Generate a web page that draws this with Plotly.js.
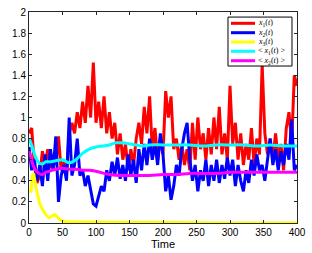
<!DOCTYPE html>
<html><head><meta charset="utf-8">
<script src="https://cdn.plot.ly/plotly-3.0.1.min.js"></script>
<style>html,body{margin:0;padding:0;background:#fff}</style>
</head><body><div id="chart" style="width:312px;height:253px"></div>
<script>
const tNoise = [0,4,8,12,16,20,24,28,32,36,40,44,48,52,56,60,64,68,72,76,80,84,88,92,96,100,104,108,112,116,120,124,128,132,136,140,144,148,152,156,160,164,168,172,176,180,184,188,192,196,200,204,208,212,216,220,224,228,232,236,240,244,248,252,256,260,264,268,272,276,280,284,288,292,296,300,304,308,312,316,320,324,328,332,336,340,344,348,352,356,360,364,368,372,376,380,384,388,392,396,400];
const x1 = [0.85,0.9,0.55,0.38,0.45,0.68,0.55,0.7,0.52,0.65,0.55,0.82,0.5,0.58,0.45,0.85,0.95,0.85,1.05,0.9,1.15,0.95,1.3,1.0,1.52,0.95,1.15,0.9,1.2,0.85,1.05,0.8,0.95,0.65,0.85,0.6,0.75,0.5,0.7,0.55,0.8,0.95,0.75,1.1,0.85,1.2,0.7,0.9,0.6,0.8,0.65,1.25,1.0,1.2,0.7,0.8,0.6,0.75,0.55,0.7,0.5,0.95,0.6,1.0,0.7,0.85,0.6,0.9,0.65,1.0,0.7,1.1,0.65,0.85,0.6,1.3,0.75,0.95,0.6,0.85,0.55,0.75,0.6,0.9,0.55,0.8,0.65,1.5,0.85,0.65,0.8,0.6,0.85,0.6,0.75,0.5,0.9,1.05,0.75,1.4,1.3];
const x2 = [0.72,0.5,0.6,0.4,0.55,0.35,0.65,0.4,0.7,0.5,0.82,0.2,0.45,0.55,0.4,1.0,0.45,0.55,0.8,0.45,0.5,0.35,0.45,0.3,0.18,0.16,0.25,0.35,0.3,0.5,0.4,0.58,0.45,0.62,0.42,0.55,0.4,0.65,0.45,0.6,0.38,0.7,0.5,0.75,0.55,0.8,0.6,0.75,0.55,0.85,0.65,0.3,0.45,0.22,0.35,0.55,0.45,0.7,0.85,0.95,0.6,0.4,0.55,0.3,0.5,0.4,0.6,0.35,0.55,0.4,0.6,0.38,0.55,0.42,0.62,0.45,0.6,0.35,0.55,0.4,0.3,0.5,0.38,0.6,0.45,0.65,0.5,0.55,0.4,0.6,0.8,0.55,0.7,0.5,0.68,0.55,0.75,0.6,0.98,0.5,0.55];
const tX3 = [0,3,5,7,10,13,16,20,25,30,35,38,42,46,50,55,60,100,150,200,300,400];
const x3 = [0.3,0.3,0.45,0.47,0.35,0.25,0.18,0.13,0.08,0.05,0.07,0.08,0.06,0.03,0.02,0.01,0.01,0.01,0.005,0.005,0,0];
const tAvg1 = [0,5,10,15,20,25,30,40,50,60,70,80,90,100,110,120,130,140,150,160,170,180,200,220,240,260,280,300,320,340,360,380,400];
const avgX1 = [0.8,0.72,0.62,0.57,0.56,0.58,0.58,0.59,0.6,0.57,0.6,0.66,0.7,0.72,0.73,0.74,0.76,0.76,0.75,0.74,0.73,0.74,0.74,0.74,0.74,0.73,0.74,0.74,0.74,0.73,0.74,0.73,0.73];
const tAvg2 = [0,3,6,10,15,20,25,30,40,50,60,70,80,90,100,120,140,160,180,200,220,240,260,280,300,320,340,360,380,400];
const avgX2 = [0.68,0.62,0.55,0.5,0.47,0.46,0.48,0.49,0.51,0.52,0.51,0.51,0.5,0.5,0.49,0.46,0.45,0.45,0.45,0.46,0.46,0.47,0.47,0.47,0.48,0.48,0.48,0.48,0.48,0.48];
const names = ['<i>x</i><sub>1</sub>(<i>t</i>)','<i>x</i><sub>2</sub>(<i>t</i>)','<i>x</i><sub>3</sub>(<i>t</i>)','&lt; <i>x</i><sub>1</sub>(<i>t</i>) &gt;','&lt; <i>x</i><sub>2</sub>(<i>t</i>) &gt;'];
const colors = ['#ff0000','#0000ff','#ffff00','#00ffff','#ff00ff'];
const xTicks = [0,50,100,150,200,250,300,350,400];
const yTicks = [0,0.2,0.4,0.6,0.8,1,1.2,1.4,1.6,1.8,2];

const traces = [
 {x:tNoise,y:x1,name:names[0],line:{color:colors[0],width:3}},
 {x:tNoise,y:x2,name:names[1],line:{color:colors[1],width:3}},
 {x:tX3,y:x3,name:names[2],line:{color:colors[2],width:3}},
 {x:tAvg1,y:avgX1,name:names[3],line:{color:colors[3],width:3,shape:'spline'}},
 {x:tAvg2,y:avgX2,name:names[4],line:{color:colors[4],width:3,shape:'spline'}}
].map(t=>Object.assign({type:'scatter',mode:'lines',showlegend:false},t));

// compact legend box drawn in paper coordinates
const legBox = {x0:0.7425,x1:0.9813,y0:0.744,y1:0.976};
const rowY = [0.9464,0.9019,0.8578,0.8138,0.7692];
const shapes = [{type:'rect',xref:'paper',yref:'paper',x0:legBox.x0,x1:legBox.x1,y0:legBox.y0,y1:legBox.y1,fillcolor:'#fff',line:{color:'#000',width:1},layer:'above'}];
const annotations = [];
rowY.forEach((y,i)=>{
  shapes.push({type:'line',xref:'paper',yref:'paper',x0:0.7537,x1:0.8433,y0:y,y1:y,line:{color:colors[i],width:3},layer:'above'});
  annotations.push({xref:'paper',yref:'paper',x:0.8507,y:y,xanchor:'left',yanchor:'middle',text:names[i],showarrow:false,borderpad:0,font:{family:'Liberation Serif, Times New Roman, serif',size:8,color:'#000'}});
});

const ax = {showline:true,mirror:'ticks',linecolor:'#262626',linewidth:1,ticks:'inside',ticklen:3,tickcolor:'#262626',showgrid:false,zeroline:false,tickfont:{family:'Liberation Sans, Arial, sans-serif',size:10,color:'#000'}};
const layout = {
 width:312,height:253,margin:{l:29,r:15,t:12,b:30},
 paper_bgcolor:'#fff',plot_bgcolor:'#fff',
 xaxis:Object.assign({},ax,{range:[0,400],tickvals:xTicks,ticktext:xTicks.map(String),title:{text:'Time',font:{family:'Liberation Sans, Arial, sans-serif',size:11,color:'#000'},standoff:2}}),
 yaxis:Object.assign({},ax,{range:[0,2],tickvals:yTicks,ticktext:yTicks.map(String)}),
 showlegend:false,
 shapes:shapes,
 annotations:annotations
};
Plotly.newPlot('chart',traces,layout,{staticPlot:true,displayModeBar:false});
</script></body></html>
